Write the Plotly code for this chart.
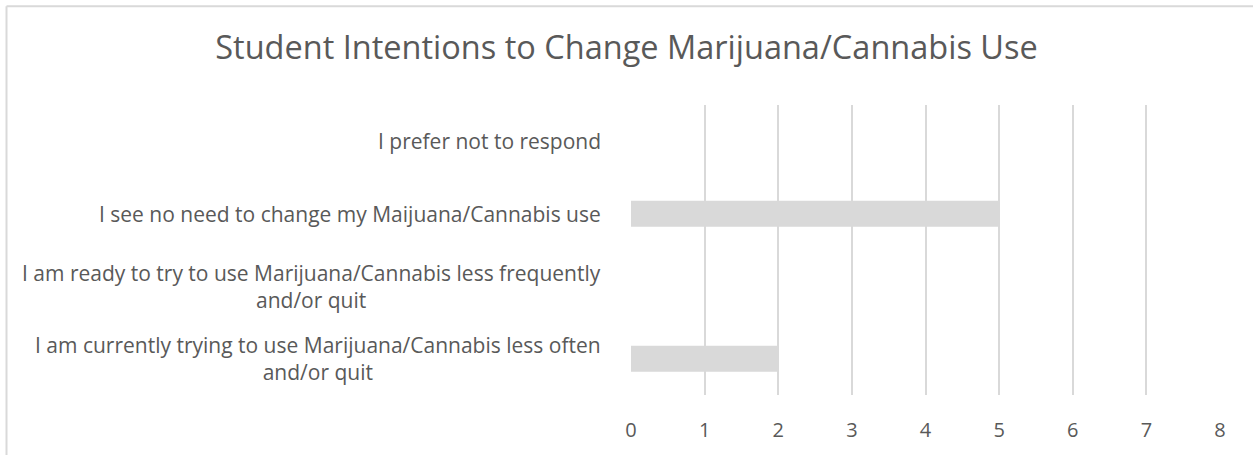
import plotly.graph_objects as go

title = "Student Intentions to Change Marijuana/Cannabis Use"
categories = [
    "I prefer not to respond",
    "I see no need to change my Maijuana/Cannabis use",
    "I am ready to try to use Marijuana/Cannabis less frequently<br>and/or quit",
    "I am currently trying to use Marijuana/Cannabis less often<br>and/or quit",
]
values = [0, 5, 0, 2]
x_ticks = [0, 1, 2, 3, 4, 5, 6, 7, 8]

FONT = "Open Sans"
GREY = "#595959"
LIGHT = "#d9d9d9"

W, H = 1253, 455
ML, MR, MT, MB = 631, 33, 105, 58

fig = go.Figure()
fig.add_trace(go.Bar(
    x=values, y=list(range(len(categories))), orientation="h",
    marker=dict(color=LIGHT, line=dict(width=0)),
    width=0.36, hoverinfo="skip",
))

for i, c in enumerate(categories):
    fig.add_annotation(
        x=0, xref="paper", xshift=-28, y=i, yref="y",
        text=c, showarrow=False, xanchor="right", yanchor="middle",
        align="center", font=dict(family=FONT, size=21, color=GREY),
    )

fig.update_layout(
    width=W, height=H,
    margin=dict(l=ML, r=MR, t=MT, b=MB, pad=0),
    paper_bgcolor="white", plot_bgcolor="white",
    showlegend=False,
    title=dict(text=title, x=0.5, xref="container", xanchor="center",
               y=1 - 48 / H, yanchor="middle", yref="container",
               font=dict(family=FONT, size=32.5, color=GREY)),
    xaxis=dict(range=[0, 8], tickvals=x_ticks, ticktext=[str(v) for v in x_ticks],
               showgrid=True, gridcolor=LIGHT, gridwidth=1.5,
               zeroline=False, showline=False, ticks="",
               ticklabelstandoff=21,
               tickfont=dict(family=FONT, size=20, color=GREY), fixedrange=True),
    yaxis=dict(range=[len(categories) - 0.5, -0.5], showticklabels=False,
               showgrid=False, zeroline=False, showline=False, ticks="",
               fixedrange=True),
    shapes=[
        dict(type="line", xref="paper", yref="paper",
             x0=(6.5 - ML) / (W - ML - MR), x1=(W + 5 - ML) / (W - ML - MR),
             y0=(H - 5.5 - MB) / (H - MT - MB), y1=(H - 5.5 - MB) / (H - MT - MB),
             line=dict(color=LIGHT, width=2)),
        dict(type="line", xref="paper", yref="paper",
             x0=(6.5 - ML) / (W - ML - MR), x1=(6.5 - ML) / (W - ML - MR),
             y0=(H - 5.5 - MB) / (H - MT - MB), y1=(-5 - MB) / (H - MT - MB),
             line=dict(color=LIGHT, width=2)),
    ],
)

fig.write_html("out.html", config={"displayModeBar": False},
               post_script="document.body.style.margin='0px';document.body.style.overflow='hidden';")
